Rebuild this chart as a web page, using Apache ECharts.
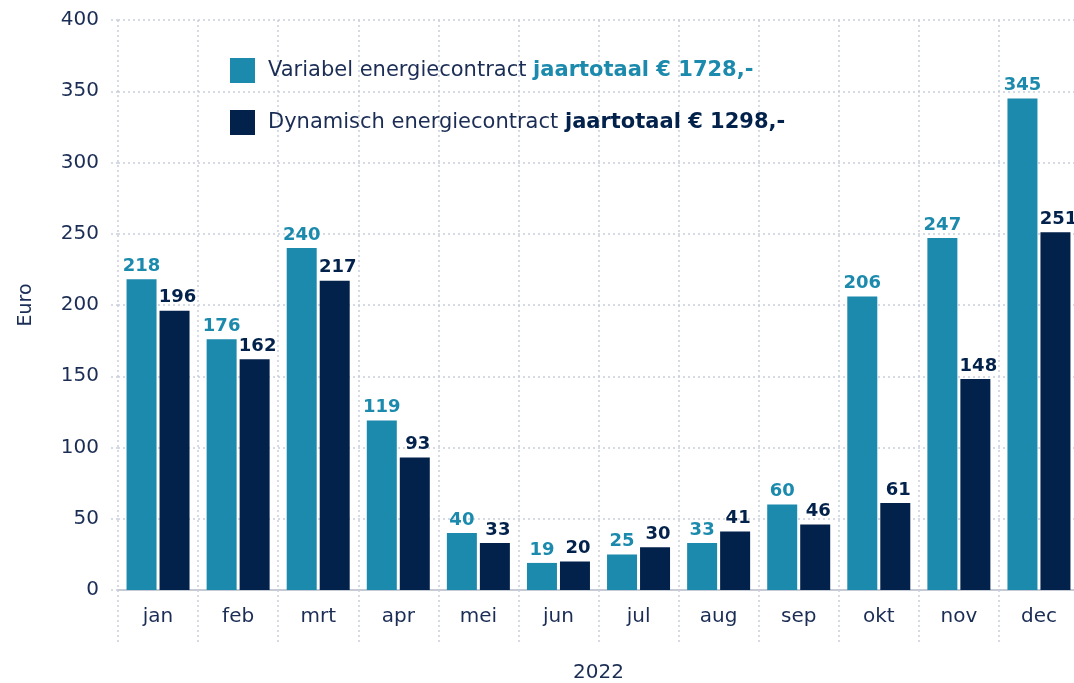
<!DOCTYPE html>
<html>
<head>
<meta charset="utf-8">
<script src="https://cdn.jsdelivr.net/npm/echarts@6/dist/echarts.min.js"></script>
<style>html,body{margin:0;padding:0;background:#fff;overflow:hidden}#c{width:1074px;height:683px}</style>
</head>
<body>
<div id="c"></div>
<script>
const months = ['jan','feb','mrt','apr','mei','jun','jul','aug','sep','okt','nov','dec'];
const variabel = [218,176,240,119,40,19,25,33,60,206,247,345];
const dynamisch = [196,162,217,93,33,20,30,41,46,61,148,251];
const seriesNames = ['Variabel energiecontract', 'Dynamisch energiecontract'];
const totals = ['jaartotaal € 1728,-', 'jaartotaal € 1298,-'];
const yAxisName = 'Euro';
const xAxisName = '2022';

const TEAL = '#1b8aad';
const NAVY = '#02214b';
const TXT = '#1b2d55';
const GRID = '#c9cedb';
const FONT = '"DejaVu Sans", Inter, sans-serif';

const chart = echarts.init(document.getElementById('c'), null, {renderer: 'canvas', width: 1074, height: 683});
chart.setOption({
  animation: false,
  textStyle: {fontFamily: FONT},
  grid: {left: 118, right: -5, top: 20, bottom: 93, containLabel: false, outerBoundsMode: 'none'},
  legend: {
    orient: 'vertical', left: 225, top: 53,
    itemWidth: 25, itemHeight: 25, itemGap: 27,
    icon: 'rect',
    data: seriesNames,
    formatter: function (name) {
      const i = seriesNames.indexOf(name);
      return '{n|' + name + ' }' + (i === 0 ? '{a|' : '{b|') + totals[i] + '}';
    },
    textStyle: {
      fontFamily: FONT, fontSize: 21, color: TXT, padding: [0, 0, 0, 8],
      rich: {
        n: {fontFamily: FONT, fontSize: 21, color: TXT},
        a: {fontFamily: FONT, fontSize: 21, color: TEAL, fontWeight: 'bold'},
        b: {fontFamily: FONT, fontSize: 21, color: NAVY, fontWeight: 'bold'}
      }
    }
  },
  xAxis: {
    type: 'category', data: months,
    name: xAxisName, nameLocation: 'middle', nameGap: 73,
    nameTextStyle: {fontFamily: FONT, fontSize: 20, color: TXT},
    axisLine: {show: true, lineStyle: {color: '#c6cad5', width: 2}},
    axisTick: {show: true, length: 52, lineStyle: {color: GRID, type: [2, 3], width: 1.5}},
    axisLabel: {fontFamily: FONT, fontSize: 20, color: TXT, margin: 17},
    splitLine: {show: true, lineStyle: {color: GRID, type: [2, 3], width: 1.5}}
  },
  yAxis: {
    type: 'value', min: 0, max: 400, interval: 50,
    name: yAxisName, nameLocation: 'middle', nameGap: 82,
    nameTextStyle: {fontFamily: FONT, fontSize: 19, color: TXT},
    axisLine: {show: false},
    axisTick: {show: true, length: 10, lineStyle: {color: GRID, type: [2, 3], width: 1.5}},
    axisLabel: {fontFamily: FONT, fontSize: 20, color: TXT, margin: 19},
    splitLine: {show: true, lineStyle: {color: GRID, type: [2, 3], width: 1.5}}
  },
  series: [
    {
      name: seriesNames[0], type: 'bar', data: variabel,
      barWidth: 30, barGap: '10%',
      itemStyle: {color: TEAL},
      label: {show: true, position: 'top', distance: 4, color: TEAL,
              fontFamily: FONT, fontSize: 18, fontWeight: 'bold'}
    },
    {
      name: seriesNames[1], type: 'bar', data: dynamisch,
      barWidth: 30,
      itemStyle: {color: NAVY},
      label: {show: true, position: 'top', distance: 4, offset: [3, 0], color: NAVY,
              fontFamily: FONT, fontSize: 18, fontWeight: 'bold'}
    }
  ]
});
</script>
</body>
</html>
